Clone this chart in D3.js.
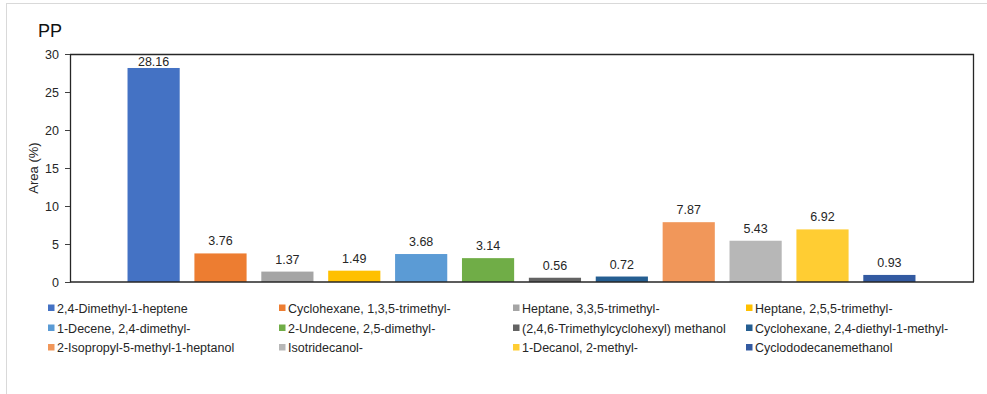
<!DOCTYPE html>
<html>
<head>
<meta charset="utf-8">
<script src="https://cdn.jsdelivr.net/npm/d3@7"></script>
<style>
  body { margin: 0; background: #fff; }
  svg text { font-family: "Liberation Sans", Arial, sans-serif; }
</style>
</head>
<body>
<svg id="chart" width="987" height="394"></svg>
<script>
// data
const compounds = [
  "2,4-Dimethyl-1-heptene", "Cyclohexane, 1,3,5-trimethyl-", "Heptane, 3,3,5-trimethyl-", "Heptane, 2,5,5-trimethyl-",
  "1-Decene, 2,4-dimethyl-", "2-Undecene, 2,5-dimethyl-", "(2,4,6-Trimethylcyclohexyl) methanol", "Cyclohexane, 2,4-diethyl-1-methyl-",
  "2-Isopropyl-5-methyl-1-heptanol", "Isotridecanol-", "1-Decanol, 2-methyl-", "Cyclododecanemethanol"
];
const areas = [28.16, 3.76, 1.37, 1.49, 3.68, 3.14, 0.56, 0.72, 7.87, 5.43, 6.92, 0.93];
const colors = ["#4472C4", "#ED7D31", "#A5A5A5", "#FFC000", "#5B9BD5", "#70AD47",
                "#636363", "#255E91", "#F1975A", "#B7B7B7", "#FFCD33", "#335AA1"];
const yTicks = [0, 5, 10, 15, 20, 25, 30];

const plot = {left: 70, right: 973, top: 54, bottom: 282};
const svg = d3.select('#chart');

// outer chart frame (only top/left edges are visible)
svg.append('rect')
  .attr('x', 6.5).attr('y', 3.5)
  .attr('width', 1000).attr('height', 400)
  .attr('fill', 'none').attr('stroke', '#d9d9d9');

const x = d3.scaleBand()
  .domain(compounds)
  .range([plot.left, plot.right])
  .paddingInner(0.22)
  .paddingOuter(0.86);

const y = d3.scaleLinear()
  .domain([0, 30])
  .range([plot.bottom, plot.top]);

// bars
svg.append('g').attr('id', 'bars')
  .selectAll('rect')
  .data(areas)
  .join('rect')
    .attr('x', (d, i) => x(compounds[i]))
    .attr('y', d => y(d))
    .attr('width', x.bandwidth())
    .attr('height', d => y(0) - y(d))
    .attr('fill', (d, i) => colors[i]);

// value labels, pushed under the frame when too tall
svg.append('g').attr('id', 'labels')
  .selectAll('text')
  .data(areas)
  .join('text')
    .text(d => d.toFixed(2))
    .attr('x', (d, i) => x(compounds[i]) + x.bandwidth() / 2)
    .attr('y', d => Math.max(y(d) - 8, y(30) + 12))
    .attr('text-anchor', 'middle')
    .attr('font-size', 12.5)
    .attr('fill', '#262626');

// plot frame: top and right
svg.append('path')
  .attr('d', `M${plot.left},${plot.top + 0.5}H${plot.right + 0.5}V${plot.bottom}`)
  .attr('fill', 'none').attr('stroke', '#262626').attr('stroke-width', 1.3);

// x baseline
svg.append('line')
  .attr('x1', plot.left).attr('x2', plot.right + 1)
  .attr('y1', y(0)).attr('y2', y(0))
  .attr('stroke', '#262626').attr('stroke-width', 1.3);

// y axis
const yAxis = svg.append('g')
  .attr('transform', `translate(${plot.left},0)`)
  .call(d3.axisLeft(y).tickValues(yTicks).tickSize(5).tickPadding(6).tickSizeOuter(0));
yAxis.select('.domain').attr('stroke', '#262626').attr('stroke-width', 1.3);
yAxis.selectAll('.tick line').attr('stroke', '#404040');
yAxis.selectAll('.tick text')
  .attr('font-size', 12.5)
  .attr('fill', '#262626')
  .style('font-family', '"Liberation Sans", Arial, sans-serif');

// title + y label
svg.append('text')
  .text('PP')
  .attr('x', 38).attr('y', 37)
  .attr('font-size', 18)
  .attr('fill', '#111');

svg.append('text')
  .text('Area (%)')
  .attr('transform', `translate(38,${(plot.top + plot.bottom) / 2}) rotate(-90)`)
  .attr('text-anchor', 'middle')
  .attr('font-size', 13)
  .attr('fill', '#262626');

// legend, 4 columns x 3 rows
const legendCols = [48, 279, 513, 746];
const legendRows = [308, 328, 347.5];
const legend = svg.append('g').attr('id', 'legend')
  .selectAll('g')
  .data(compounds)
  .join('g')
    .attr('transform', (d, i) => `translate(${legendCols[i % 4]},${legendRows[Math.floor(i / 4)]})`);

legend.append('rect')
  .attr('x', 0).attr('y', -3.5)
  .attr('width', 6.5).attr('height', 6.5)
  .attr('fill', (d, i) => colors[i]);

legend.append('text')
  .text(d => d)
  .attr('x', 9).attr('y', 4.5)
  .attr('font-size', 12.5)
  .attr('fill', '#262626');
</script>
</body>
</html>
